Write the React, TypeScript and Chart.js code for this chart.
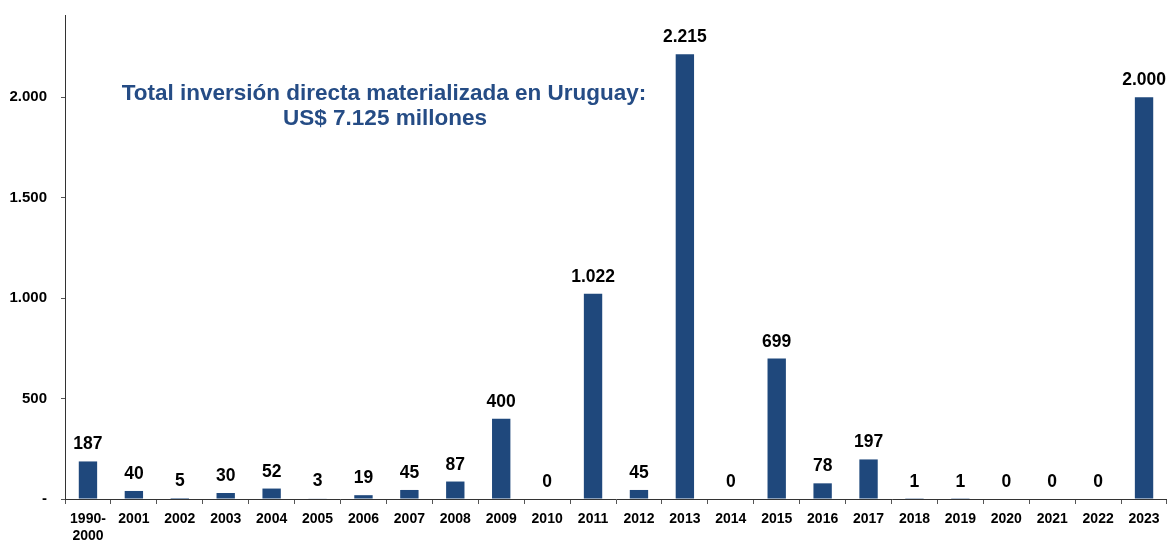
import React, { useEffect, useRef } from "react";
import { Chart, registerables } from "chart.js";

Chart.register(...registerables);

const categories: (string | string[])[] = [
  ["1990-", "2000"], "2001", "2002", "2003", "2004", "2005", "2006", "2007", "2008", "2009",
  "2010", "2011", "2012", "2013", "2014", "2015", "2016", "2017", "2018", "2019",
  "2020", "2021", "2022", "2023",
];

const investment = [
  187, 40, 5, 30, 52, 3, 19, 45, 87, 400,
  0, 1022, 45, 2215, 0, 699, 78, 197, 1, 1,
  0, 0, 0, 2000,
];

const yTickValues = [0, 500, 1000, 1500, 2000];

const titleLines = [
  "Total inversión directa materializada en Uruguay:",
  "US$ 7.125 millones",
];

const FONT = "Arial, 'Liberation Sans', Helvetica, sans-serif";
const BAR_COLOR = "#1F487C";
const TITLE_COLOR = "#254C85";

function fmt(v: number): string {
  return String(Math.round(v)).replace(/\B(?=(\d{3})+(?!\d))/g, ".");
}

const labelsPlugin = {
  id: "barValueLabels",
  afterDatasetsDraw(chart: any) {
    const ctx = chart.ctx as CanvasRenderingContext2D;
    const meta = chart.getDatasetMeta(0);
    ctx.save();
    ctx.font = `bold 17.5px ${FONT}`;
    ctx.fillStyle = "#000000";
    ctx.textAlign = "center";
    ctx.textBaseline = "alphabetic";
    meta.data.forEach((bar: any, i: number) => {
      const v = investment[i];
      ctx.fillText(fmt(v), bar.x, bar.y - 12);
    });
    ctx.restore();
  },
};

const titlePlugin = {
  id: "innerTitle",
  afterDraw(chart: any) {
    const ctx = chart.ctx as CanvasRenderingContext2D;
    ctx.save();
    ctx.font = `bold 22.5px ${FONT}`;
    ctx.fillStyle = TITLE_COLOR;
    ctx.textAlign = "center";
    ctx.textBaseline = "alphabetic";
    ctx.fillText(titleLines[0], 384, 100);
    ctx.fillText(titleLines[1], 385, 125);
    ctx.restore();
  },
};

export default function App() {
  const canvasRef = useRef<HTMLCanvasElement | null>(null);

  useEffect(() => {
    if (!canvasRef.current) return;
    const chart = new Chart(canvasRef.current, {
      type: "bar",
      data: {
        labels: categories as any,
        datasets: [
          {
            data: investment,
            backgroundColor: BAR_COLOR,
            borderWidth: 0,
            categoryPercentage: 1,
            barPercentage: 0.4,
          },
        ],
      },
      options: {
        responsive: false,
        animation: false,
        layout: { padding: { top: 15, right: 0, left: 0, bottom: 0 } },
        plugins: {
          legend: { display: false },
          tooltip: { enabled: false },
          title: { display: false },
        },
        scales: {
          x: {
            offset: true,
            grid: {
              display: true,
              offset: true,
              drawOnChartArea: false,
              drawTicks: true,
              tickLength: 5,
              color: "#555555",
            },
            border: { display: true, color: "#333333", width: 1 },
            ticks: {
              color: "#000000",
              font: { family: FONT, size: 14, weight: "bold", lineHeight: 1.2 },
              padding: 7,
              maxRotation: 0,
              autoSkip: false,
            },
            afterFit(scale: any) {
              scale.height = 43;
              scale.paddingLeft = 0;
              scale.paddingRight = 0;
            },
          },
          y: {
            min: 0,
            max: 2410,
            afterBuildTicks(scale: any) {
              scale.ticks = yTickValues.map((v) => ({ value: v }));
            },
            grid: {
              display: true,
              drawOnChartArea: false,
              drawTicks: true,
              tickLength: 4,
              color: "#555555",
            },
            border: { display: true, color: "#333333", width: 1 },
            ticks: {
              color: "#000000",
              font: { family: FONT, size: 15, weight: "bold" },
              padding: 14,
              callback: (v: any) => (Number(v) === 0 ? "-" : fmt(Number(v))),
            },
            afterFit(scale: any) {
              scale.width = 65;
              scale.paddingTop = 0;
              scale.paddingBottom = 0;
            },
          },
        },
      },
      plugins: [labelsPlugin, titlePlugin],
    });
    return () => chart.destroy();
  }, []);

  return (
    <div style={{ position: "fixed", left: 0, top: 0, width: 1167, height: 542, background: "#fff" }}>
      <canvas ref={canvasRef} width={1167} height={542} />
    </div>
  );
}
